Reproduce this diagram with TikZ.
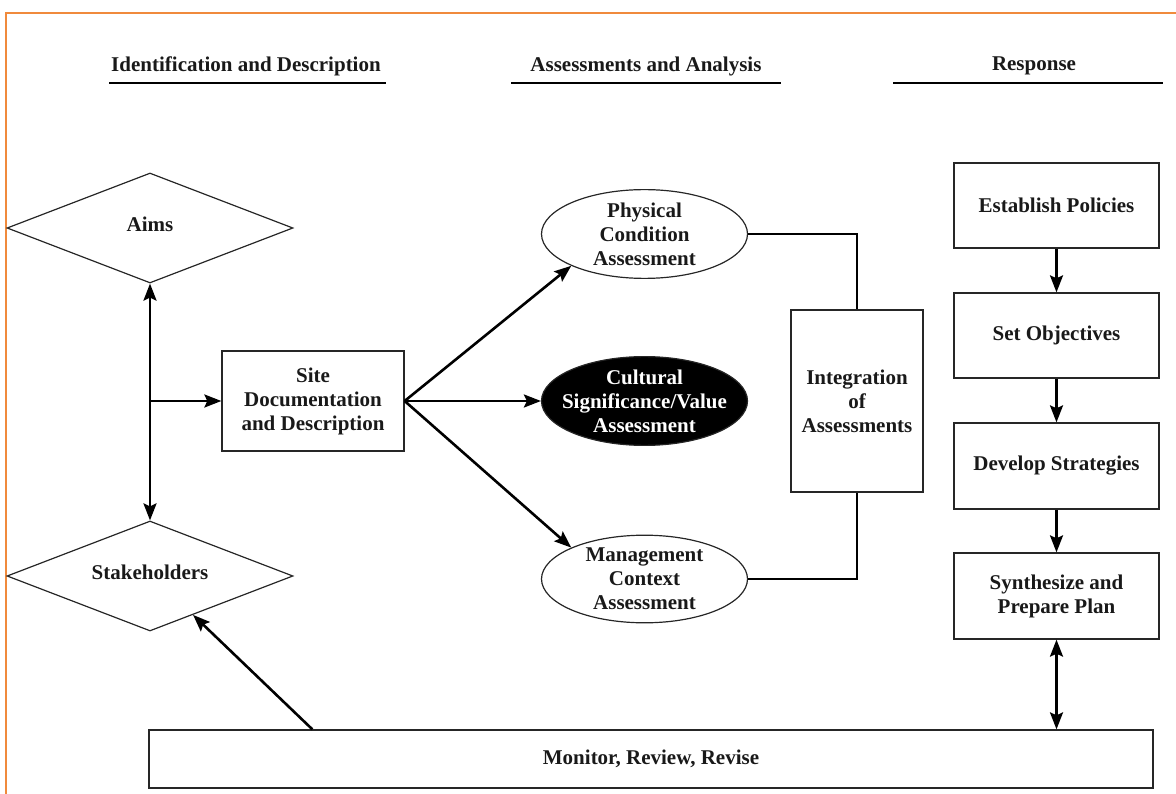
\documentclass[tikz,border=0pt]{standalone}
\usepackage{fontspec}
\setmainfont{Liberation Serif}
\usetikzlibrary{shapes.geometric,arrows.meta,calc}
\definecolor{frameorange}{HTML}{F08A3C}
\begin{document}
\begin{tikzpicture}[x=1pt,y=-1pt,
  txt/.style={font=\fontsize{21}{24}\selectfont\bfseries, align=center, text=black!90},
  box/.style={txt, draw=black!85, line width=1.3pt, rectangle, inner sep=0pt},
  dia/.style={draw=black!85, line width=1.2pt, diamond, minimum width=286pt, minimum height=110pt, inner sep=0pt},
  ell/.style={txt, draw=black!85, line width=1.2pt, ellipse, minimum width=206pt, minimum height=86pt, inner sep=0pt},
  tipst/.tip={Stealth[length=17pt,width=13pt,inset=3pt]},
  arr/.style={line width=2.6pt, -tipst},
  darr/.style={line width=2.6pt, tipst-tipst},
  conn/.style={line width=2.6pt},
  uline/.style={line width=2.6pt},
  ]
\useasboundingbox (0,0) rectangle (1176,794);
% frame
\draw[frameorange, line width=2pt] (6,794) -- (6,13) -- (1176,13);

% headers
\node[txt] (h1) at (246,66) {Identification and Description};
\node[txt] (h2) at (646,66) {Assessments and Analysis};
\node[txt] (h3) at (1034,66) {Response};
\coordinate (u1a) at (109,83); \coordinate (u1b) at (386,83);
\coordinate (u2a) at (511,83); \coordinate (u2b) at (781,83);
\coordinate (u3a) at (893,83); \coordinate (u3b) at (1163,83);
\draw[uline] (u1a) -- (u1b);
\draw[uline] (u2a) -- (u2b);
\draw[uline] (u3a) -- (u3b);

% left column
\node[dia] (aims) at (150,228) {};
\node[txt] (aimslbl) at (150,224) {Aims};
\node[dia] (stake) at (150,576) {};
\node[txt] (stakelbl) at (150,572) {Stakeholders};
\node[box, minimum width=182pt, minimum height=100pt] (site) at (313,401) {Site\\Documentation\\and Description};
\coordinate (br) at (150,401);

% assessments
\node[ell] (phys) at (644.5,234) {Physical\\Condition\\Assessment};
\node[ell, fill=black, text=white, inner xsep=-22pt] (cult) at (644.5,401) {Cultural\\Significance/Value\\Assessment};
\node[ell] (mgmt) at (644.5,579) {Management\\Context\\Assessment};
\node[box, minimum width=132pt, minimum height=182pt] (integ) at (857,401) {Integration\\of\\Assessments};

% response
\node[box, minimum width=205pt, minimum height=85pt] (est) at (1056.5,205.5) {Establish Policies};
\node[box, minimum width=205pt, minimum height=85pt] (obj) at (1056.5,335.5) {Set Objectives};
\node[box, minimum width=205pt, minimum height=86pt] (dev) at (1056.5,466) {Develop Strategies};
\node[box, minimum width=205pt, minimum height=86pt] (syn) at (1056.5,596) {Synthesize and\\Prepare Plan};

% monitor
\node[box, minimum width=1004pt, minimum height=58pt] (mon) at (651,759) {Monitor, Review, Revise};
\coordinate (m1) at ($(mon.north west)+(164,0)$);
\coordinate (s1) at ($(stake.south)!0.3!(stake.east)$);

% connectors
\draw[darr] (aims.south) -- (stake.north);
\draw[arr] (br) -- (site.west);
\draw[arr] (site.east) -- (phys.south west);
\draw[arr] (site.east) -- (cult.west);
\draw[arr] (site.east) -- (mgmt.north west);
\draw[conn] (phys.east) -| (integ.north);
\draw[conn] (mgmt.east) -| (integ.south);
\draw[arr] (est.south) -- (obj.north);
\draw[arr] (obj.south) -- (dev.north);
\draw[arr] (dev.south) -- (syn.north);
\draw[darr] (syn.south) -- (syn.south |- mon.north);
\draw[arr] (m1) -- (s1);
\end{tikzpicture}
\end{document}
